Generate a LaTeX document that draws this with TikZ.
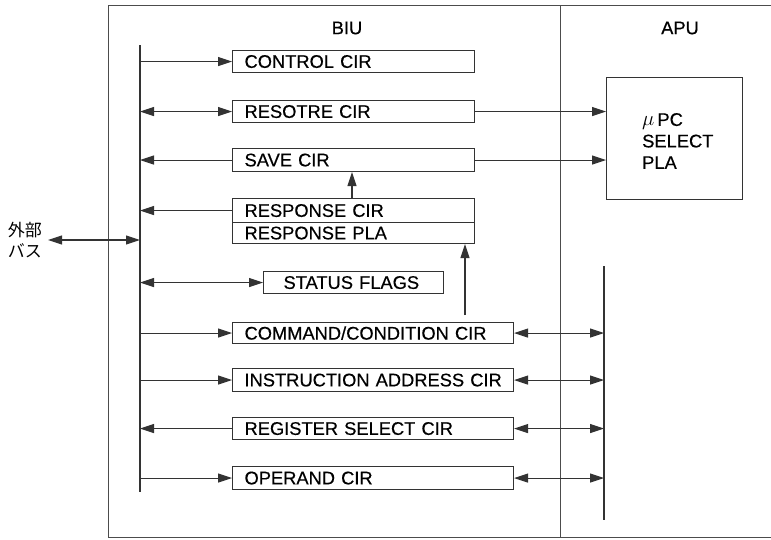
\documentclass[tikz,border=0pt]{standalone}
\usepackage{fontspec}
\setmainfont{Liberation Sans}[FakeBold=0.4]
\newfontfamily\jpfont{Noto Sans CJK JP}
\usetikzlibrary{arrows.meta}
\begin{document}
\begin{tikzpicture}[x=1pt,y=-1pt,
  font=\fontsize{18.3}{21.5}\selectfont,
  ln/.style={line width=1.1pt, draw=black!80},
  frame/.style={line width=0.9pt, draw=black!70},
  box/.style={ln, anchor=north west, inner xsep=12pt, inner ysep=0pt, align=left, text width=218pt},
  wbox/.style={box, text width=257pt},
  arr/.style={ln, -{Triangle[length=14pt,width=9pt]}},
  darr/.style={ln, {Triangle[length=14pt,width=9pt]}-{Triangle[length=14pt,width=9pt]}},
  lbl/.style={inner sep=0pt}]
\useasboundingbox[fill=white] (0,0) rectangle (771,539);
% frame
\draw[frame] (771,5) -- (108,5) -- (108,537) -- (771,537);
\draw[frame] (560,5) -- (560,537);
\node[lbl] (biu) at (347,28) {BIU};
\node[lbl] (apu) at (680,28) {APU};
% bus lines
\coordinate (bt) at (140,45);
\coordinate (bb) at (140,492);
\draw[ln] (bt) -- (bb);
\coordinate (rt) at (604,266);
\coordinate (rb) at (604,520);
\draw[ln] (rt) -- (rb);
% boxes
\node[box, minimum height=22pt] (ctrl) at (232,50) {\mbox{CONTROL CIR}};
\node[box, minimum height=22pt] (res) at (232,100) {\mbox{RESOTRE CIR}};
\node[box, minimum height=23pt] (save) at (232,148) {\mbox{SAVE CIR}};
\node[box, minimum height=24pt] (rcir) at (232,198) {\mbox{RESPONSE CIR}};
\node[box, minimum height=21pt] (rpla) at (232,222) {\mbox{RESPONSE PLA}};
\node[box, inner xsep=20pt, text width=140pt, minimum height=22pt] (stat) at (263,271) {\mbox{STATUS FLAGS}};
\node[wbox, minimum height=21pt] (cmd) at (232,322) {\mbox{COMMAND/CONDITION CIR}};
\node[wbox, minimum height=23pt] (ins) at (232,368) {\mbox{INSTRUCTION ADDRESS CIR}};
\node[wbox, minimum height=22pt] (reg) at (232,417) {\mbox{REGISTER SELECT CIR}};
\node[wbox, minimum height=23pt] (opr) at (232,466) {\mbox{OPERAND CIR}};
% APU box
\node[ln, draw, anchor=north west, minimum width=136pt, minimum height=122pt, inner sep=0pt] (upc) at (606,77) {};
\node[lbl, anchor=west, align=left] (upctxt) at (642,141) {{\fontsize{21}{21}\selectfont$\mu$}\,PC\\SELECT\\PLA};
% external bus
\node[lbl, align=center, font=\jpfont\fontsize{17}{21}\selectfont] (ext) at (25,240) {外部\\バス};
\coordinate (exte) at (48,240);
\draw[darr] (exte) -- (bt |- exte);
% left arrows
\draw[arr] (bt |- ctrl.west) -- (ctrl.west);
\draw[darr] (bt |- res.west) -- (res.west);
\draw[arr] (save.west) -- (bt |- save.west);
\draw[arr] (rcir.west) -- (bt |- rcir.west);
\draw[darr] (bt |- stat.west) -- (stat.west);
\draw[arr] (bt |- cmd.west) -- (cmd.west);
\draw[arr] (bt |- ins.west) -- (ins.west);
\draw[arr] (reg.west) -- (bt |- reg.west);
\draw[arr] (bt |- opr.west) -- (opr.west);
% right arrows
\draw[darr] (cmd.east) -- (rt |- cmd.east);
\draw[darr] (ins.east) -- (rt |- ins.east);
\draw[darr] (reg.east) -- (rt |- reg.east);
\draw[darr] (opr.east) -- (rt |- opr.east);
% to APU
\draw[arr] (res.east) -- (upc.west |- res.east);
\draw[arr] (save.east) -- (upc.west |- save.east);
% vertical up arrows
\coordinate (sx) at (352,0);
\draw[arr] (sx |- rcir.north) -- (sx |- save.south);
\coordinate (cu) at (465,315);
\draw[arr] (cu) -- (cu |- rpla.south);
\end{tikzpicture}
\end{document}
